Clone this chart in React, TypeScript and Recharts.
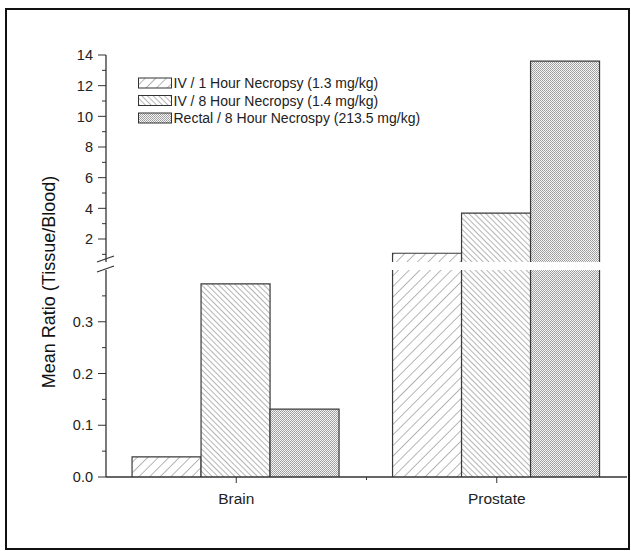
import React from 'react';
import { BarChart, Bar, XAxis, YAxis } from 'recharts';

const categories = ['Brain', 'Prostate'];
const iv1Hour = [0.039, 1.07];
const iv8Hour = [0.373, 3.69];
const rectal8Hour = [0.131, 13.6];

const seriesNames = [
  'IV / 1 Hour Necropsy (1.3 mg/kg)',
  'IV / 8 Hour Necropsy (1.4 mg/kg)',
  'Rectal / 8 Hour Necrospy (213.5 mg/kg)',
];

const upperDomain = [0.5, 14];
const lowerDomain = [0, 0.4];
const upperTicks = [1, 2, 3, 4, 5, 6, 7, 8, 9, 10, 11, 12, 13, 14];
const lowerTicks = [0, 0.05, 0.1, 0.15, 0.2, 0.25, 0.3, 0.35];

const series = [
  { key: 'iv1', values: iv1Hour, name: seriesNames[0], pattern: 'hatch-fwd' },
  { key: 'iv8', values: iv8Hour, name: seriesNames[1], pattern: 'hatch-back' },
  { key: 'rectal', values: rectal8Hour, name: seriesNames[2], pattern: 'hatch-dots' },
];

const allRows = categories.map((name, i) => {
  const row: any = { name };
  series.forEach((s) => (row[s.key] = s.values[i]));
  return row;
});

// upper panel only shows what reaches above the break
const upperRows = categories.map((name, i) => {
  const row: any = { name };
  series.forEach((s) => (row[s.key] = s.values[i] >= upperDomain[0] ? s.values[i] : null));
  return row;
});

const FONT = '"Liberation Sans", Arial, sans-serif';
const TICK_SIZE = 8;
const TICK_MARGIN = 4;

const HatchBar = (props: any) => {
  const { x, y, width, height, fill, value } = props;
  if (value == null || !width || !height) return <g />;
  return (
    <g>
      <rect x={x} y={y} width={width} height={height} fill={fill} stroke="none" />
      <path
        d={`M${x},${y + height} V${y} H${x + width} V${y + height}`}
        fill="none"
        stroke="#3a3a3a"
        strokeWidth={1.2}
      />
    </g>
  );
};

const makeYTick = (isMajor: (v: number) => boolean, fmt: (v: number) => string) => (props: any) => {
  const { x, y, payload } = props;
  const v = payload.value;
  const axisX = x + TICK_SIZE + TICK_MARGIN;
  const major = isMajor(v);
  return (
    <g>
      <line x1={axisX - (major ? 8 : 4)} x2={axisX} y1={y} y2={y} stroke="#333" strokeWidth={1} />
      {major && (
        <text x={x - 1} y={y} dy="0.36em" textAnchor="end" fontSize={14.5} fill="#222" fontFamily={FONT}>
          {fmt(v)}
        </text>
      )}
    </g>
  );
};

const UpperTick = makeYTick((v) => v % 2 === 0, (v) => String(v));
const LowerTick = makeYTick((v) => Math.round(v * 100) % 10 === 0, (v) => v.toFixed(1));

const XTick = (props: any) => {
  const { x, y, payload } = props;
  const axisY = y - 6 - 4;
  return (
    <g>
      <text x={x} y={y + 16.5} textAnchor="middle" fontSize={15.5} fill="#222" fontFamily={FONT}>
        {payload.value}
      </text>
      {payload.index === 0 && (
        <line x1={x + payload.offset} x2={x + payload.offset} y1={axisY} y2={axisY + 3} stroke="#333" />
      )}
    </g>
  );
};

const legendRowsY = [83, 100.5, 118];

const App = () => {
  return (
    <div
      style={{
        position: 'fixed',
        left: 0,
        top: 0,
        width: 631,
        height: 551,
        background: '#fff',
        fontFamily: FONT,
      }}
    >
      <svg width={631} height={551} style={{ position: 'absolute', left: 0, top: 0 }}>
        <defs>
          <pattern id="hatch-fwd" width={7.5} height={7.5} patternUnits="userSpaceOnUse" patternTransform="rotate(45)">
            <rect width={7.5} height={7.5} fill="#fff" />
            <line x1={0} y1={0} x2={0} y2={7.5} stroke="#7a7a7a" strokeWidth={1.1} />
          </pattern>
          <pattern id="hatch-back" width={4} height={4} patternUnits="userSpaceOnUse" patternTransform="rotate(-45)">
            <rect width={4} height={4} fill="#fff" />
            <line x1={0} y1={0} x2={0} y2={4} stroke="#6a6a6a" strokeWidth={1} />
          </pattern>
          <pattern id="hatch-dots" width={2} height={2} patternUnits="userSpaceOnUse">
            <rect width={2} height={2} fill="#f4f4f4" />
            <rect x={0} y={0} width={1} height={1} fill="#9c9c9c" />
            <rect x={1} y={1} width={1} height={1} fill="#a8a8a8" />
          </pattern>
        </defs>
        {/* frame */}
        <rect x={6} y={9} width={623} height={540} fill="none" stroke="#111" strokeWidth={2} />
        {/* y title */}
        <text
          x={49}
          y={282}
          transform="rotate(-90 49 282)"
          textAnchor="middle"
          dominantBaseline="central"
          fontSize={18}
          fill="#111"
          fontFamily={FONT}
        >
          Mean Ratio (Tissue/Blood)
        </text>
        {/* axis break marks */}
        <line x1={97} y1={262} x2={114} y2={256} stroke="#333" strokeWidth={1.3} />
        <line x1={97} y1={272} x2={114} y2={266} stroke="#333" strokeWidth={1.3} />
        {/* legend */}
        {series.map((s, i) => (
          <g key={s.key}>
            <rect x={138.5} y={legendRowsY[i] - 5} width={33} height={10} fill={`url(#${s.pattern})`} stroke="#333" strokeWidth={1} />
            <text x={173.5} y={legendRowsY[i] + 5} fontSize={14} fill="#222" fontFamily={FONT}>
              {s.name}
            </text>
          </g>
        ))}
      </svg>

      <div style={{ position: 'absolute', left: 0, top: 0 }}>
        <BarChart
          width={631}
          height={265}
          data={upperRows}
          margin={{ top: 55, right: 4, bottom: 3, left: 46 }}
          barCategoryGap="10%"
          barGap={0}
        >
          <XAxis dataKey="name" hide />
          <YAxis
            type="number"
            domain={upperDomain}
            allowDataOverflow
            ticks={upperTicks}
            interval={0}
            width={60}
            tickSize={TICK_SIZE}
            tickMargin={TICK_MARGIN}
            tickLine={false}
            tick={UpperTick}
            axisLine={{ stroke: '#333', strokeWidth: 1.3 }}
          />
          {series.map((s) => (
            <Bar
              key={s.key}
              dataKey={s.key}
              name={s.name}
              fill={`url(#${s.pattern})`}
              shape={HatchBar}
              isAnimationActive={false}
            />
          ))}
        </BarChart>
      </div>

      <div style={{ position: 'absolute', left: 0, top: 265 }}>
        <BarChart
          width={631}
          height={286}
          data={allRows}
          margin={{ top: 5, right: 4, bottom: 44, left: 46 }}
          barCategoryGap="10%"
          barGap={0}
        >
          <XAxis
            dataKey="name"
            height={30}
            tickSize={6}
            tickMargin={4}
            tick={XTick}
            tickLine={{ stroke: '#333' }}
            axisLine={{ stroke: '#333', strokeWidth: 1.3 }}
          />
          <YAxis
            type="number"
            domain={lowerDomain}
            allowDataOverflow
            ticks={lowerTicks}
            interval={0}
            width={60}
            tickSize={TICK_SIZE}
            tickMargin={TICK_MARGIN}
            tickLine={false}
            tick={LowerTick}
            axisLine={{ stroke: '#333', strokeWidth: 1.3 }}
          />
          {series.map((s) => (
            <Bar
              key={s.key}
              dataKey={s.key}
              name={s.name}
              fill={`url(#${s.pattern})`}
              shape={HatchBar}
              isAnimationActive={false}
            />
          ))}
        </BarChart>
      </div>
    </div>
  );
};

export default App;
